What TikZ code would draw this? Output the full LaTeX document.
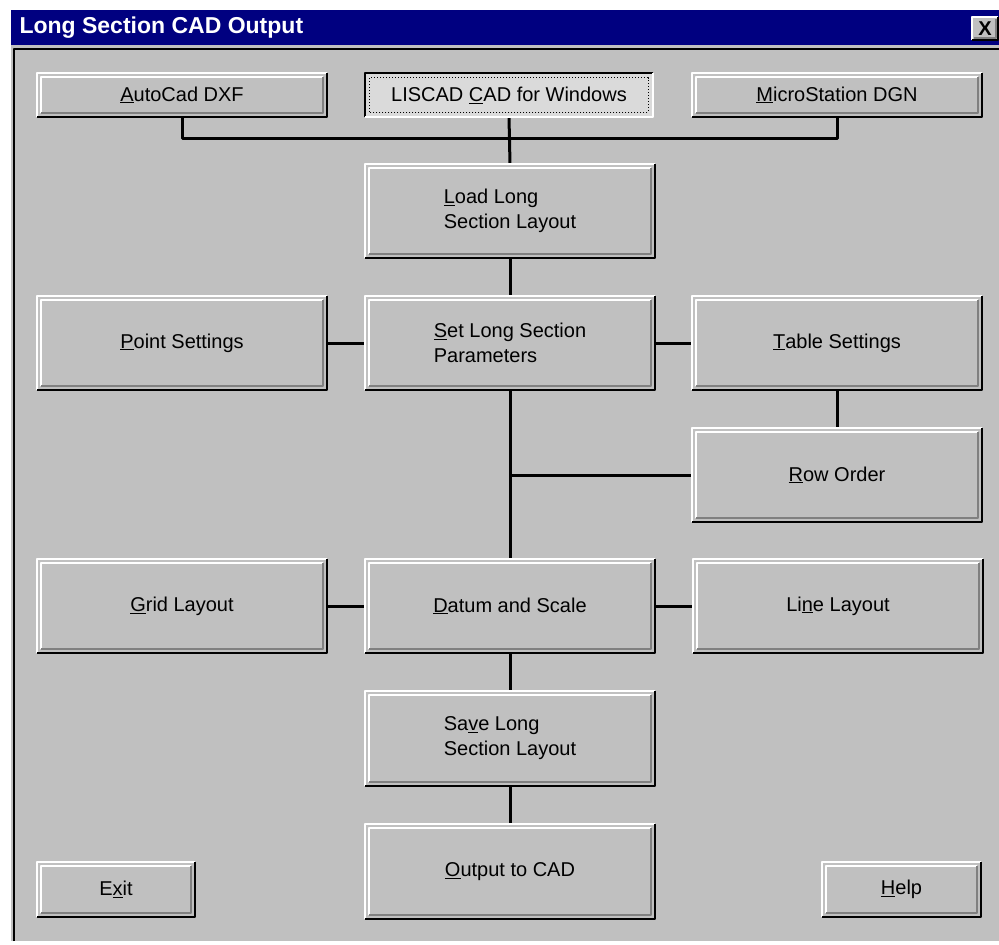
\documentclass[tikz,border=0pt]{standalone}
\usepackage{fontspec}
\setmainfont{Liberation Sans}
\definecolor{winface}{HTML}{C0C0C0}
\definecolor{winshade}{HTML}{808080}
\definecolor{wintitle}{HTML}{000080}
\definecolor{winfocus}{HTML}{DADADA}
\begin{document}
\begin{tikzpicture}[x=1pt,y=-1pt,line join=round,
	btn/.style={fill=winface,inner sep=0pt,minimum width=290pt,minimum height=94pt,align=left,font=\fontsize{20}{25}\selectfont},
	wire/.style={line width=3pt}]
	\useasboundingbox (0,0) rectangle (999,945);
	% window frame
	\fill[white] (0,0) rectangle (999,945);
	\fill[wintitle] (11,10) rectangle (999,45);
	\fill[winface] (11,45) rectangle (999,941);
	\draw[line width=2.5pt] (14,941)--(14,49)--(999,49);
	\node[anchor=west,white,font=\bfseries\fontsize{23}{23}\selectfont] (title) at (16,28) {Long Section CAD Output};
	\node[btn,minimum width=26pt,minimum height=23pt,font=\bfseries\fontsize{20}{20}\selectfont] (close) at (985,28.5) {X};
	% buttons
	\node[btn,minimum height=44pt] (acad) at (182,95) {\underline{A}utoCad DXF};
	\node[btn,fill=winfocus,minimum width=288pt,minimum height=44pt] (liscad) at (509,95) {LISCAD \underline{C}AD for Windows};
	\node[btn,minimum height=44pt] (mstn) at (837,95) {\underline{M}icroStation DGN};
	\node[btn] (load) at (510,211) {\underline{L}oad Long\\Section Layout};
	\node[btn] (setpar) at (510,343) {\underline{S}et Long Section\\Parameters};
	\node[btn] (point) at (182,343) {\underline{P}oint Settings};
	\node[btn] (table) at (837,343) {\underline{T}able Settings};
	\node[btn] (roword) at (837,475) {\underline{R}ow Order};
	\node[btn] (grid) at (182,606) {\underline{G}rid Layout};
	\node[btn] (datum) at (510,606) {\underline{D}atum and Scale};
	\node[btn] (linelay) at (838,606) {Li\underline{n}e Layout};
	\node[btn] (save) at (510,738.5) {Sa\underline{v}e Long\\Section Layout};
	\node[btn] (output) at (510,871.5) {\underline{O}utput to CAD};
	\node[btn,minimum width=158pt,minimum height=55pt] (exit) at (116,889.5) {E\underline{x}it};
	\node[btn,minimum width=158pt,minimum height=55pt] (help) at (901.5,889.5) {\underline{H}elp};
	% connectors
	\coordinate (bus) at (509,138);
	\draw[wire] (acad.south) |- (bus) -| (mstn.south);
	\draw[wire] (liscad.south) -- (load.north);
	\draw[wire] (load.south) -- (setpar.north);
	\draw[wire] (point.east) -- (setpar.west);
	\draw[wire] (setpar.east) -- (table.west);
	\draw[wire] (table.south) -- (roword.north);
	\draw[wire] (setpar.south) -- (datum.north);
	\draw[wire] (roword.west) -- (setpar.south |- roword.west);
	\draw[wire] (grid.east) -- (datum.west);
	\draw[wire] (datum.east) -- (linelay.west);
	\draw[wire] (datum.south) -- (save.north);
	\draw[wire] (save.south) -- (output.north);
	% pressed button with focus
	\draw[line width=2pt] (liscad.south west) |- (liscad.north east);
	\draw[white,line width=2pt] (liscad.south west) -| (liscad.north east);
	\draw[dotted,line width=1pt] ([shift={(5,-5)}]liscad.south west) rectangle ([shift={(-5,5)}]liscad.north east);
	% raised bevels
	\foreach \n in {acad,mstn,load,setpar,point,table,roword,grid,datum,linelay,save,output,exit,help}{
		\draw[white,line width=2pt] (\n.south west) |- (\n.north east);
		\draw[line width=2pt] (\n.south west) -| (\n.north east);
		\draw[white,line width=2pt] ([shift={(4,-4)}]\n.south west) |- ([shift={(-4,4)}]\n.north east);
		\draw[winshade,line width=2pt] ([shift={(4,-4)}]\n.south west) -| ([shift={(-4,4)}]\n.north east);
	}
	\draw[white,line width=1.5pt] (close.south west) |- (close.north east);
	\draw[line width=1.5pt] (close.south west) -| (close.north east);
	\draw[winshade,line width=1.5pt] ([shift={(2,-2)}]close.south west) -| ([shift={(-2,2)}]close.north east);
\end{tikzpicture}
\end{document}
